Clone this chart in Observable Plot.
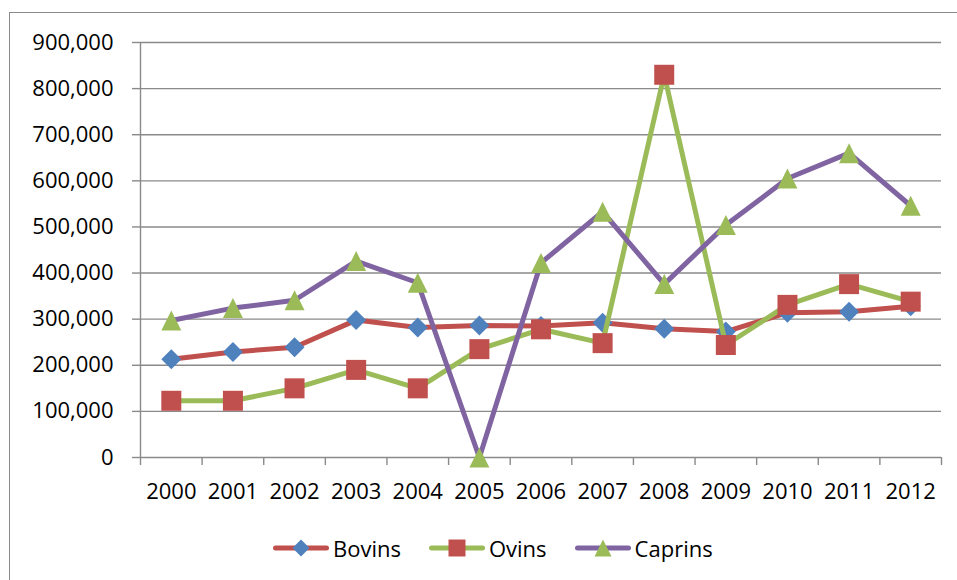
<!DOCTYPE html>
<html>
<head>
<meta charset="utf-8">
<script src="https://cdn.jsdelivr.net/npm/d3@7"></script>
<script src="https://cdn.jsdelivr.net/npm/@observablehq/plot@0.6"></script>
<style>
  html, body { margin: 0; padding: 0; background: #fff; overflow: hidden; }
  body { width: 957px; height: 580px; position: relative; font-family: "Open Sans", sans-serif; }
  #frame { position: absolute; left: 9px; top: 12px; width: 1100px; height: 800px; border: 1.5px solid #8a8a8a; box-sizing: border-box; }
  #chart { position: absolute; left: 0; top: 0; }
  #legend { position: absolute; left: 273px; top: 536px; display: flex; align-items: center; font-size: 22px; color: #000; }
  #legend .item { display: flex; align-items: center; margin-right: 28px; }
  #legend .item span { margin-left: 4px; line-height: 24px; }
</style>
</head>
<body>
<div id="frame"></div>
<div id="chart"></div>
<div id="legend"></div>
<script>
// Cheptel par espèce, 2000–2012
const years = [2000, 2001, 2002, 2003, 2004, 2005, 2006, 2007, 2008, 2009, 2010, 2011, 2012];
const bovins = [213000, 229000, 239000, 298000, 282000, 286000, 285000, 292000, 279000, 273000, 314000, 316000, 328000];
const ovins = [123000, 123000, 150000, 190000, 150000, 235000, 278000, 248000, 830000, 244000, 331000, 376000, 338000];
const caprins = [297000, 324000, 341000, 426000, 379000, 0, 422000, 533000, 376000, 504000, 605000, 660000, 546000];
const seriesNames = ["Bovins", "Ovins", "Caprins"];
const yTicks = [0, 100000, 200000, 300000, 400000, 500000, 600000, 700000, 800000, 900000];

// Marker shapes: sqrt(size) is the full width of the marker
const diamond = {draw(ctx, size) { const s = Math.sqrt(size) / 2; ctx.moveTo(0, -s); ctx.lineTo(s, 0); ctx.lineTo(0, s); ctx.lineTo(-s, 0); ctx.closePath(); }};
const square = {draw(ctx, size) { const s = Math.sqrt(size) / 2; ctx.rect(-s, -s, 2 * s, 2 * s); }};
const triangle = {draw(ctx, size) { const s = Math.sqrt(size) / 2; ctx.moveTo(0, -s); ctx.lineTo(s, s); ctx.lineTo(-s, s); ctx.closePath(); }};

// Line colour and marker colour of each series
const styles = [
  {line: "#C0504D", marker: "#4F81BD", symbol: diamond, w: 20},
  {line: "#9BBB59", marker: "#C0504D", symbol: square, w: 20},
  {line: "#8064A2", marker: "#9BBB59", symbol: triangle, w: 20}
];

const series = [bovins, ovins, caprins].map((vals, i) => ({
  name: seriesNames[i],
  rows: years.map((year, j) => ({year, value: vals[j]})),
  style: styles[i]
}));

// Category boundaries for the x tick marks
const bounds = [...years.map(y => y - 0.5), years[years.length - 1] + 0.5];
const gridColor = "#8a8a8a";

const marks = [
  Plot.gridY(yTicks.slice(1), {stroke: gridColor, strokeOpacity: 1, strokeWidth: 1.4}),
  Plot.axisY(yTicks, {tickSize: 8, tickPadding: 19, stroke: gridColor, strokeWidth: 1.4, tickFormat: d3.format(","), fontSize: 22, fill: "#000", label: null}),
  Plot.ruleY([0], {stroke: gridColor, strokeWidth: 1.4}),
  Plot.ruleX([bounds[0]], {y1: 0, y2: 900000, stroke: gridColor, strokeWidth: 1.4}),
  Plot.axisX(bounds, {tickSize: 8, stroke: gridColor, strokeWidth: 1.4, tickFormat: () => "", label: null}),
  Plot.axisX(years, {tickSize: 0, tickPadding: 26, tickFormat: d => String(d), fontSize: 22, fill: "#000", label: null})
];

for (const s of series) {
  marks.push(Plot.line(s.rows, {x: "year", y: "value", stroke: s.style.line, strokeWidth: 5, strokeLinejoin: "round", strokeLinecap: "round"}));
  marks.push(Plot.dot(s.rows, {x: "year", y: "value", symbol: s.style.symbol, r: s.style.w / Math.sqrt(Math.PI), fill: s.style.marker, stroke: "none"}));
}

const chart = Plot.plot({
  width: 957,
  height: 515,
  marginLeft: 140,
  marginRight: 16,
  marginTop: 42,
  marginBottom: 58,
  style: {fontFamily: "Open Sans", fontSize: "22px", background: "transparent", color: "#000"},
  x: {type: "linear", domain: [bounds[0], bounds[bounds.length - 1]]},
  y: {domain: [0, 900000]},
  marks
});
document.getElementById("chart").appendChild(chart);

// Legend below the plot
const legend = d3.select("#legend");
series.forEach(s => {
  const item = legend.append("div").attr("class", "item");
  const svg = item.append("svg").attr("width", 56).attr("height", 20);
  svg.append("line").attr("x1", 2.5).attr("x2", 53.5).attr("y1", 10).attr("y2", 10)
    .attr("stroke", s.style.line).attr("stroke-width", 5).attr("stroke-linecap", "round");
  svg.append("path").attr("transform", "translate(28,10)")
    .attr("d", d3.symbol(s.style.symbol, 17 * 17)()).attr("fill", s.style.marker);
  item.append("span").text(s.name);
});
</script>
</body>
</html>
